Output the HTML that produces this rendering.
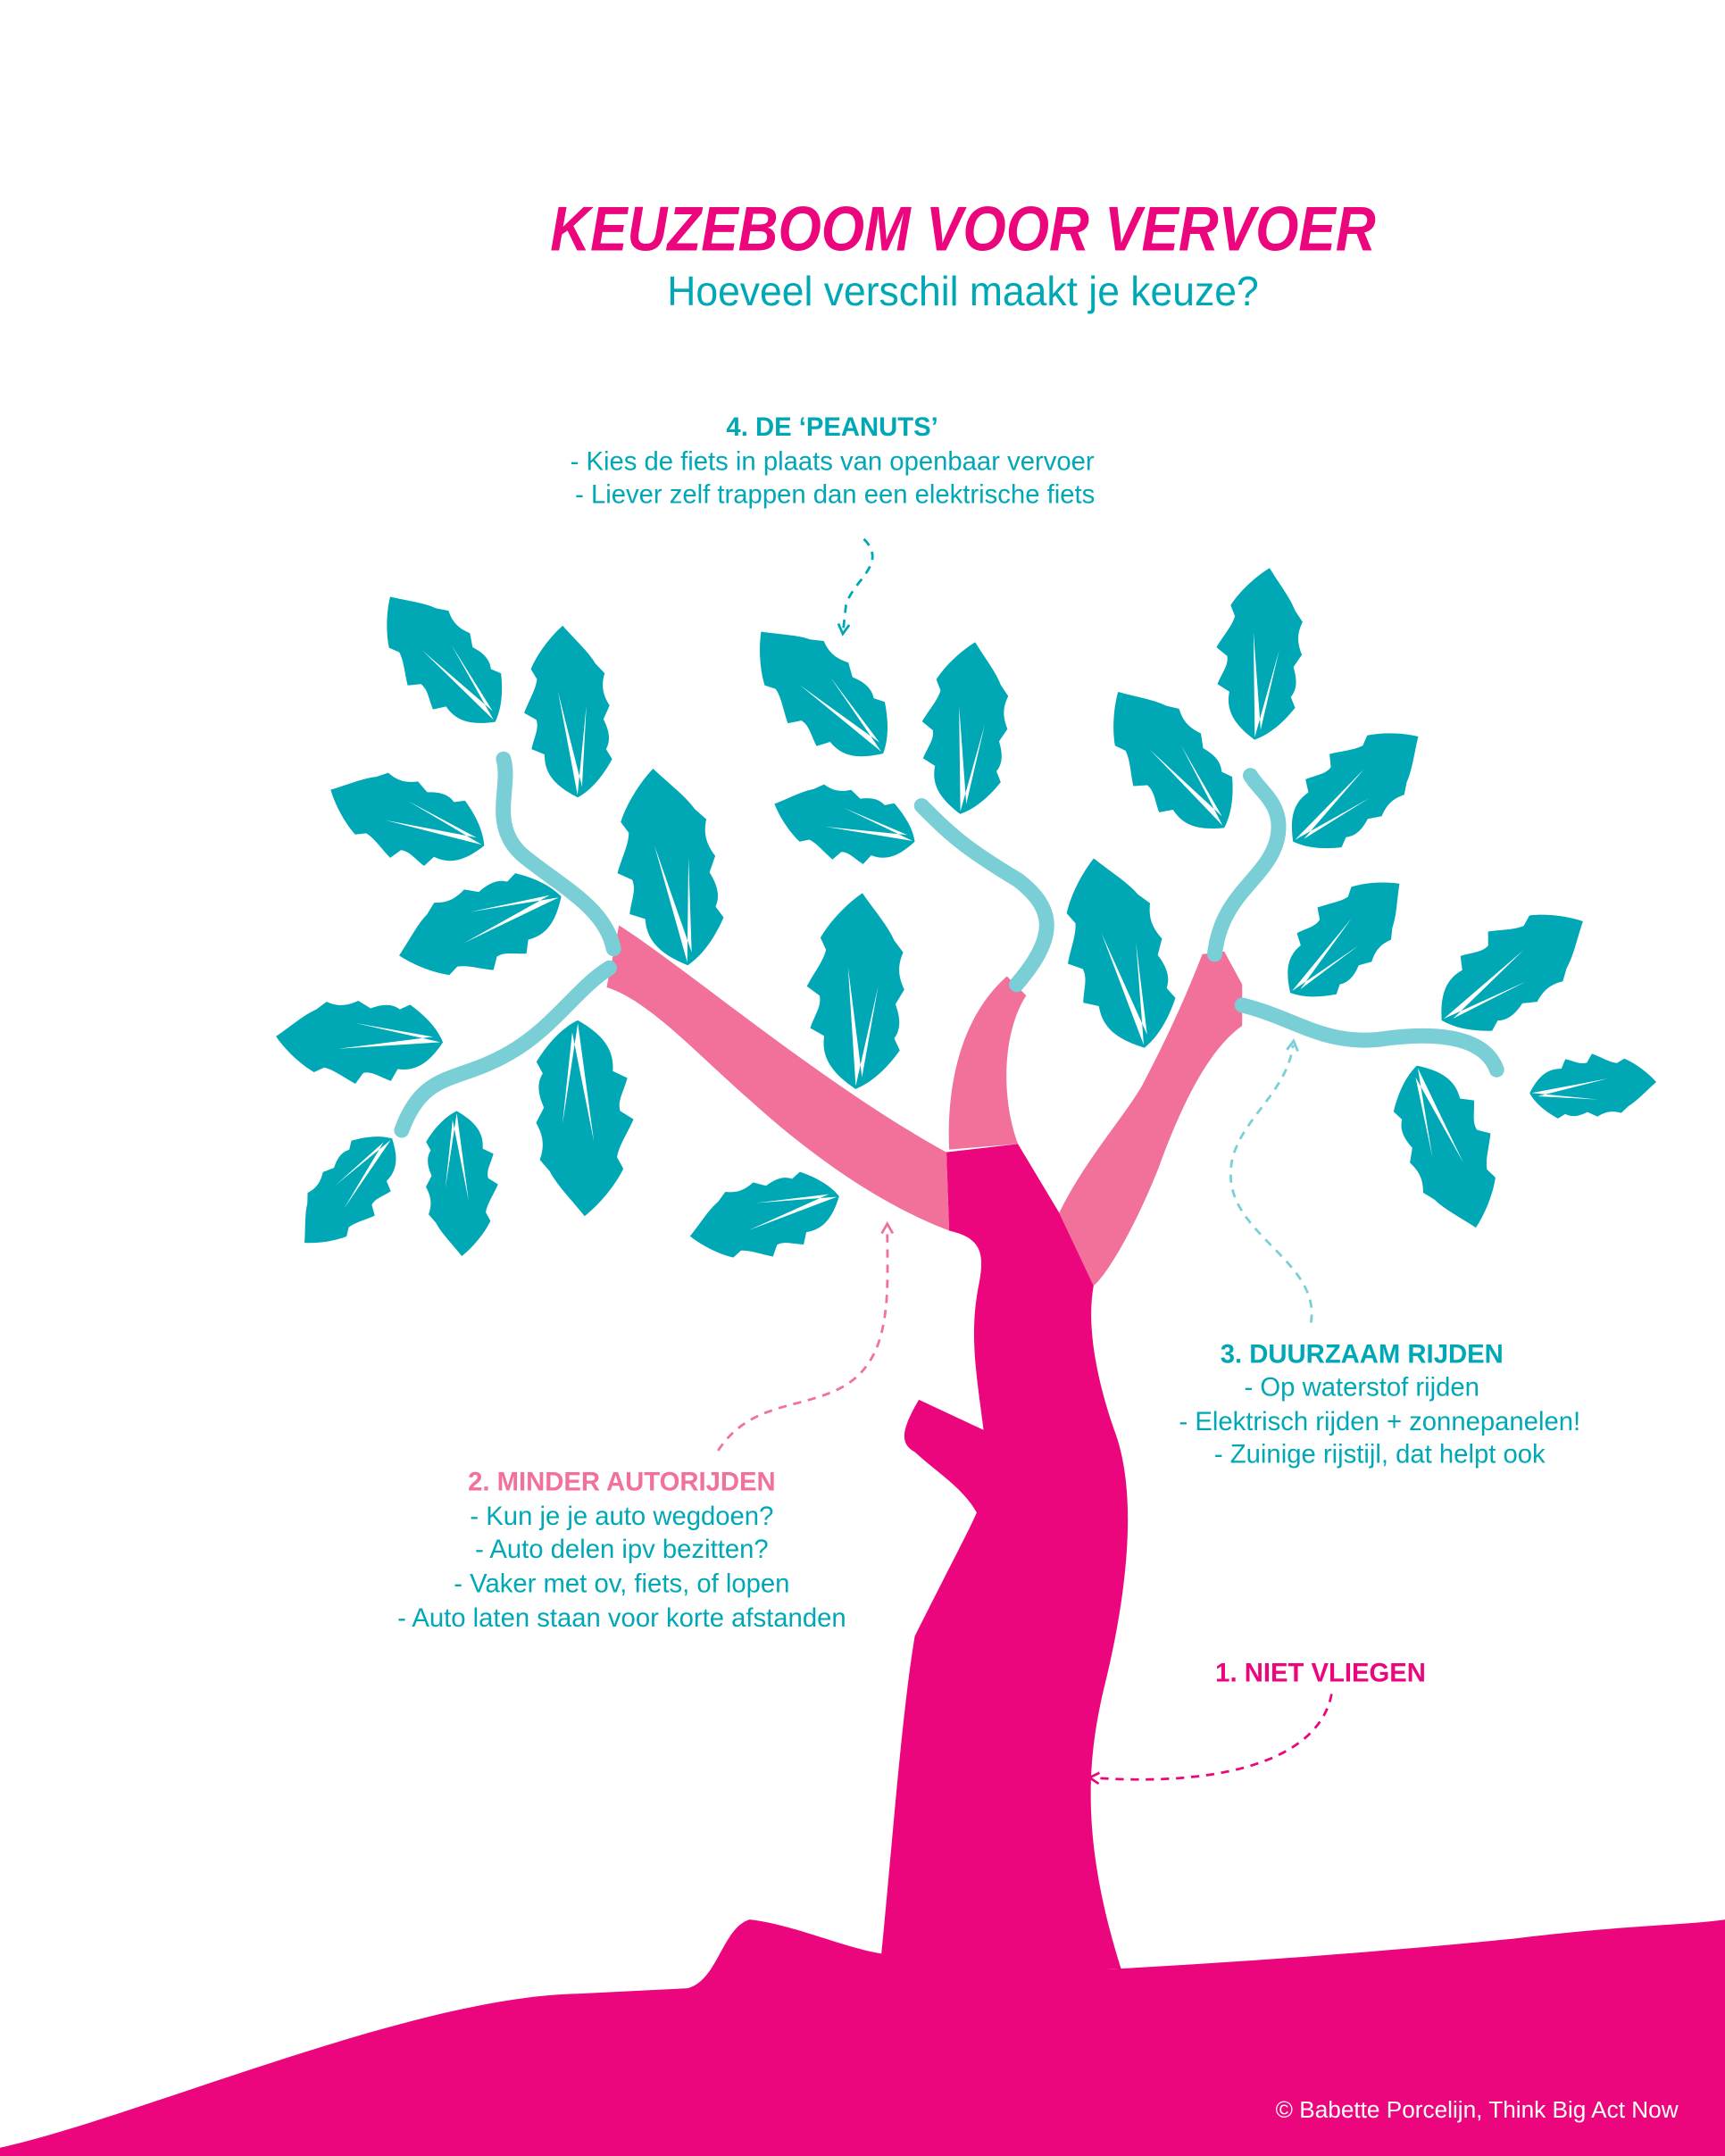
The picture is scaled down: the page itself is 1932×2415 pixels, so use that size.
<!DOCTYPE html>
<html><head><meta charset="utf-8"><style>
html,body{margin:0;padding:0;background:#fff;}
svg{display:block;}
</style></head><body>
<svg width="1932" height="2415" viewBox="0 0 1254 1568" preserveAspectRatio="none" xmlns="http://www.w3.org/2000/svg">
<defs>
<g id="leaf">
<g transform="scale(1,0.8)">
<path d="M0,0 C10,-20 20,-30 35,-28 L40,-40 C50,-36 55,-31 62,-33 L68,-44 C78,-38 85,-31 93,-29 L101,-34 C113,-26 125,-12 132,0 C121,10 111,22 101,28 L93,36 C83,31 76,33 68,38 L58,31 C50,35 42,37 35,31 L27,36 C15,26 5,14 0,0 Z" fill="#00A8B5"/>
<path d="M2,0 L82,-10 L8,5 L70,16 Z" fill="#fff"/>
</g>
</g>
<marker id="ah" viewBox="0 0 10 10" refX="5" refY="5" markerWidth="10" markerHeight="10" orient="auto-start-reverse" markerUnits="userSpaceOnUse">
<path d="M1,1 L8,5 L1,9" fill="none" stroke="context-stroke" stroke-width="1.8"/>
</marker>
</defs>

<path d="M0,1568 L0,1562 C100,1540 300,1452 420,1450 L500,1446 C522,1440 525,1402 545,1396 C580,1400 620,1420 650,1422 L810,1432 C900,1427 1000,1420 1100,1410 C1180,1400 1230,1400 1254,1396 L1254,1568 Z" fill="#EC067D"/>
<path d="M640,1428 C648,1350 655,1250 665,1190 C690,1140 705,1112 710,1100 C700,1082 680,1070 665,1056 C654,1050 655,1040 668,1018 L715,1040 C710,1000 704,970 712,932 C716,910 712,900 690,895 L688,838 L740,832 L770,882 L795,935 C790,962 796,1000 810,1040 C826,1082 822,1150 802,1230 C790,1282 786,1340 815,1432 Z" fill="#EC067D"/>
<path d="M450,673 C500,705 600,790 688,838 L690,895 C650,880 600,850 545,800 C505,765 472,728 441,718 Z" fill="#F2719A"/>
<path d="M690,836 C688,790 698,740 732,710 L746,724 C728,752 728,800 740,832 Z" fill="#F2719A"/>
<path d="M770,882 C788,845 815,815 830,790 C850,752 864,720 874,694 L890,692 L903,716 L903,746 C880,762 860,800 842,850 C822,900 802,930 795,935 Z" fill="#F2719A"/>
<g fill="none" stroke="#7ACFD6" stroke-width="11" stroke-linecap="round">
<path d="M446,690 C440,660 408,645 380,622 C355,600 372,572 366,552"/>
<path d="M443,704 C420,718 402,748 370,766 C332,788 308,778 292,822"/>
<path d="M739,716 C770,680 766,660 740,640 C700,616 690,606 670,586"/>
<path d="M883,694 C888,650 920,640 928,612 C935,586 916,576 909,564"/>
<path d="M903,731 C940,740 962,760 1002,756 C1050,749 1080,756 1088,778"/>
</g>
<use href="#leaf" transform="translate(360,525) rotate(-130) scale(0.9)"/>
<use href="#leaf" transform="translate(420,580) rotate(-95) scale(0.95)"/>
<use href="#leaf" transform="translate(352,615) rotate(-160) scale(0.9)"/>
<use href="#leaf" transform="translate(408,652) rotate(160) scale(0.95)"/>
<use href="#leaf" transform="translate(500,702) rotate(-100) scale(1.1)"/>
<use href="#leaf" transform="translate(322,758) rotate(-178) scale(0.92)"/>
<use href="#leaf" transform="translate(285,828) rotate(130) scale(0.75)"/>
<use href="#leaf" transform="translate(332,808) rotate(88) scale(0.8)"/>
<use href="#leaf" transform="translate(420,742) rotate(88) scale(1.08)"/>
<use href="#leaf" transform="translate(642,548) rotate(-135) scale(0.95)"/>
<use href="#leaf" transform="translate(698,592) rotate(-85) scale(0.95)"/>
<use href="#leaf" transform="translate(665,612) rotate(-165) scale(0.8)"/>
<use href="#leaf" transform="translate(622,792) rotate(-88) scale(1.08)"/>
<use href="#leaf" transform="translate(610,870) rotate(165) scale(0.85)"/>
<use href="#leaf" transform="translate(890,602) rotate(-128) scale(0.95)"/>
<use href="#leaf" transform="translate(912,538) rotate(-85) scale(0.95)"/>
<use href="#leaf" transform="translate(940,612) rotate(-40) scale(0.9)"/>
<use href="#leaf" transform="translate(832,762) rotate(-105) scale(1.08)"/>
<use href="#leaf" transform="translate(938,722) rotate(-45) scale(0.85)"/>
<use href="#leaf" transform="translate(1048,742) rotate(-35) scale(0.95)"/>
<use href="#leaf" transform="translate(1030,775) rotate(70) scale(0.95)"/>
<use href="#leaf" transform="translate(1112,795) rotate(-5) scale(0.7)"/>

<g fill="none" stroke-width="1.8" stroke-dasharray="6,5">
<path d="M628,392 C646,410 620,422 615,440 L613,458" stroke="#00A8B5" marker-end="url(#ah)"/>
<path d="M953,962 C960,920 900,900 895,860 C890,820 935,800 940,760" stroke="#7ACFD6" marker-end="url(#ah)"/>
<path d="M522,1055 C545,1020 580,1025 610,1010 C650,990 645,940 645,893" stroke="#F2719A" marker-end="url(#ah)"/>
<path d="M968,1232 C960,1275 900,1300 795,1293" stroke="#EC067D" marker-end="url(#ah)"/>
</g>

<g font-family="Liberation Sans, sans-serif">
<text x="700" y="182" text-anchor="middle" font-size="46" font-weight="bold" font-style="italic" fill="#EC067D" textLength="600" lengthAdjust="spacingAndGlyphs">KEUZEBOOM VOOR VERVOER</text>
<text x="700" y="222" text-anchor="middle" font-size="30" fill="#00A8B5" textLength="430" lengthAdjust="spacingAndGlyphs">Hoeveel verschil maakt je keuze?</text>
<g font-size="19" fill="#00A8B5" text-anchor="middle">
<text x="605" y="317" font-weight="bold">4. DE ‘PEANUTS’</text>
<text x="605" y="342">- Kies de fiets in plaats van openbaar vervoer</text>
<text x="607" y="366">- Liever zelf trappen dan een elektrische fiets</text>
<text x="990" y="991" font-weight="bold">3. DUURZAAM RIJDEN</text>
<text x="990" y="1015">- Op waterstof rijden</text>
<text x="1003" y="1040">- Elektrisch rijden + zonnepanelen!</text>
<text x="1003" y="1064">- Zuinige rijstijl, dat helpt ook</text>
<text x="452" y="1084" font-weight="bold" fill="#F2719A">2. MINDER AUTORIJDEN</text>
<text x="452" y="1109">- Kun je je auto wegdoen?</text>
<text x="452" y="1133">- Auto delen ipv bezitten?</text>
<text x="452" y="1158">- Vaker met ov, fiets, of lopen</text>
<text x="452" y="1183">- Auto laten staan voor korte afstanden</text>
<text x="960" y="1223" font-weight="bold" fill="#EC067D">1. NIET VLIEGEN</text>
</g>
<text x="1220" y="1540" text-anchor="end" font-size="17" fill="#fff">© Babette Porcelijn, Think Big Act Now</text>
</g>
</svg>
</body></html>
